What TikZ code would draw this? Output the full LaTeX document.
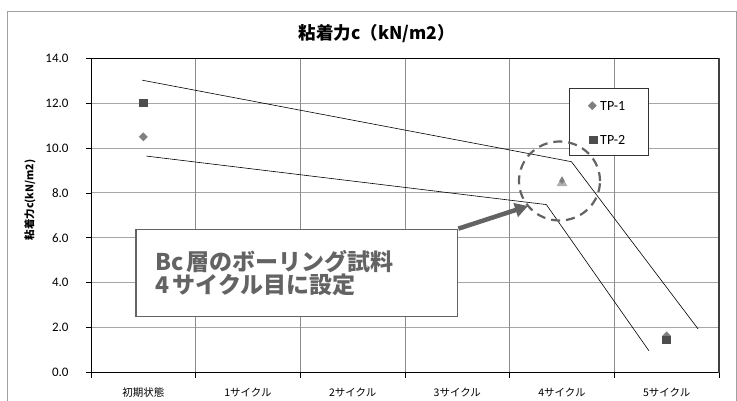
\documentclass[tikz,border=0pt]{standalone}
\usepackage{fontspec}
\setmainfont{Carlito}
\newfontfamily\jpfont{Noto Sans CJK JP}
\usetikzlibrary{shapes.geometric,arrows.meta}
\definecolor{framegray}{HTML}{A0A0A0}
\definecolor{gridgray}{HTML}{A6A6A6}
\definecolor{colgray}{HTML}{8C8C8C}
\definecolor{tponegray}{HTML}{808080}
\definecolor{tptwogray}{HTML}{4D4D4D}
\definecolor{tpthreegray}{HTML}{B0B0B0}
\definecolor{notegray}{HTML}{636363}
\tikzset{
  tpone/.style={diamond,fill=tponegray,inner sep=0pt,minimum size=9pt},
  tptwo/.style={rectangle,fill=tptwogray,inner sep=0pt,minimum size=8.5pt},
  trend/.style={draw=black,line width=0.6pt},
}
\begin{document}
\begin{tikzpicture}[x=1pt,y=1pt]
  \useasboundingbox (0,0) rectangle (737,400);
  \fill[white] (0,0) rectangle (737,400);
  \draw[framegray,line width=1pt] (7,-5) -- (7,388) -- (736,388) -- (736,-5);

  \node (title) at (376.7,366) {\jpfont\bfseries\fontsize{17.5}{20}\selectfont 粘着力c（kN/m2）};
  \node (ytitle) [rotate=90] at (30,200) {\jpfont\bfseries\fontsize{10.5}{12}\selectfont 粘着力c(kN/m2)};

  \begin{scope}[shift={(91,27.5)},x=104.67pt,y=22.45pt]
    % grid
    \foreach \v in {2,4,...,12}
      \draw[gridgray,line width=1pt] (0,\v) -- (6,\v);
    \foreach \c in {1,...,5}
      \draw[colgray,line width=1pt] (\c,0) -- (\c,14);
    \draw[black,line width=0.8pt] (0,14) -- (0,0) -- (6,0);
    \draw[black,line width=0.8pt] (0,14) -- (6,14);
    \draw[darkgray,line width=1.3pt] (6,14) -- (6,0);

    % ticks and labels
    \foreach \v in {0,2,...,14} {
      \draw[black,line width=0.8pt] (0,\v) -- ++(-5pt,0);
      \node[anchor=east] (ylab\v) at ([xshift=-19pt]0,\v) {\fontsize{13}{15}\selectfont \v.0};
    }
    \foreach \c in {0,...,6}
      \draw[black,line width=0.8pt] (\c,0) -- ++(0,-5pt);
    \foreach \lab [count=\i from 0] in {初期状態,1サイクル,2サイクル,3サイクル,4サイクル,5サイクル}
      \node (xlab\i) at ([yshift=-20pt]\i+0.5,0) {\jpfont\fontsize{10.5}{12}\selectfont \lab};

    % trend lines
    \coordinate (u0) at (0.49,13.02);
    \coordinate (u1) at (4.59,9.39);
    \coordinate (u2) at (5.80,1.94);
    \coordinate (l0) at (0.53,9.64);
    \coordinate (l1) at (4.35,7.48);
    \coordinate (l2) at (5.33,0.97);
    \draw[trend] (u0) -- (u1) -- (u2);
    \draw[trend] (l0) -- (l1) -- (l2);

    % data
    \node[tptwo] (tp2a) at (0.5,12) {};
    \node[tpone] (tp1a) at (0.5,10.5) {};
    \node[regular polygon,regular polygon sides=3,fill=tpthreegray,inner sep=0pt,minimum size=12.7pt] (tri) at (4.5,8.44) {};
    \begin{scope}
      \clip (tri.corner 1) -- (tri.corner 2) -- (tri.corner 3) -- cycle;
      \node[tpone] (tp1e) at (4.5,8.6) {};
    \end{scope}
    \node[tpone] (tp1f) at (5.5,1.63) {};
    \node[tptwo] (tp2f) at (5.5,1.45) {};
  \end{scope}

  % legend
  \node[draw=black!80,fill=white,line width=0.8pt,minimum width=79pt,minimum height=66.7pt,inner sep=0pt] (legend) at (608.8,278.3) {};
  \node[tpone] (keyone) at (592.3,294.3) {};
  \node[anchor=west,inner sep=0pt] (keyonetxt) at (600,294.3) {\fontsize{14}{16}\selectfont TP-1};
  \node[tptwo] (keytwo) at (593.3,260) {};
  \node[anchor=west,inner sep=0pt] (keytwotxt) at (600,260) {\fontsize{14}{16}\selectfont TP-2};

  % note
  \node[ellipse,draw=notegray,line width=2.2pt,dash pattern=on 9pt off 6pt,minimum width=81pt,minimum height=79pt] (ring) at (559.5,219) {};
  \node[draw=notegray,fill=white,line width=1.3pt,text width=283pt,inner xsep=19.35pt,inner ysep=0pt,minimum height=87.4pt,align=left,text=notegray] (callout) at (296.85,127)
    {\jpfont\bfseries\fontsize{23}{30}\selectfont Bc 層のボーリング試料\\4 サイクル目に設定};
  \coordinate (arrowtip) at (528,194);
  \draw[notegray,line width=4.5pt,-{Triangle[length=13pt,width=14pt]}] (callout.north east) -- (arrowtip);
\end{tikzpicture}
\end{document}
